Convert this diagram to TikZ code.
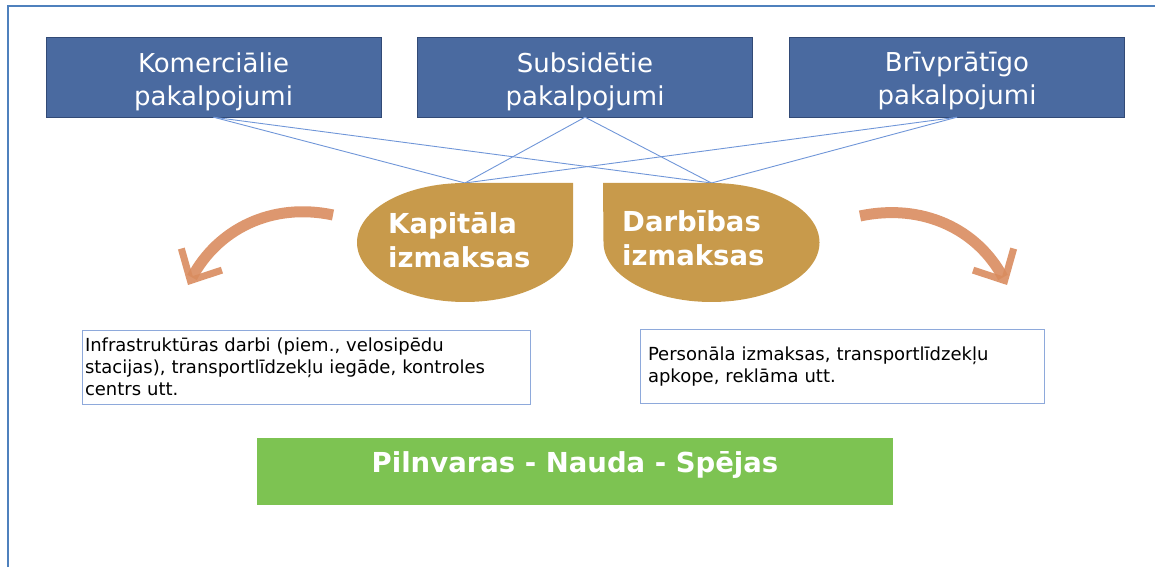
\documentclass[tikz,border=0pt]{standalone}
\usepackage{fontspec}
\setmainfont{DejaVu Sans}
\usetikzlibrary{arrows.meta}
\definecolor{boxblue}{RGB}{74,106,160}
\definecolor{boxedge}{RGB}{50,74,118}
\definecolor{linkblue}{RGB}{112,150,216}
\definecolor{frameblue}{RGB}{79,129,189}
\definecolor{costgold}{RGB}{200,154,75}
\definecolor{curlorange}{RGB}{217,140,95}
\definecolor{barggreen}{RGB}{125,195,82}
\definecolor{noteedge}{RGB}{142,169,219}

\begin{document}
\begin{tikzpicture}[x=1pt,y=1pt,
  service/.style={draw=boxedge, fill=boxblue, minimum width=335pt, minimum height=80pt},
  servicetext/.style={text=white, align=center, inner sep=0pt, font=\fontsize{26}{33}\selectfont},
  note/.style={draw=noteedge, align=left, minimum height=74pt, font=\fontsize{18}{22}\selectfont},
  cost/.style={text=white, align=left, inner sep=0pt, anchor=west, font=\bfseries\fontsize{27.5}{34}\selectfont},
  curl/.style={curlorange, opacity=0.9, line width=11pt, -{Straight Barb[length=24pt,width=46pt,line width=7pt]}}]
\useasboundingbox (0,0) rectangle (1155,567);
\draw[frameblue, line width=1.5pt] (8,0) -- (8,561) -- (1155,561);

% the three kinds of service
\node[service] (kom) at (213.5,490) {};
\node[service] (sub) at (585,490) {};
\node[service] (briv) at (957,490) {};
\node[servicetext] (komtext) at ([yshift=-4.5pt]kom.center) {Komerciālie\\pakalpojumi};
\node[servicetext] (subtext) at ([yshift=-4.5pt]sub.center) {Subsidētie\\pakalpojumi};
\node[servicetext] (brivtext) at ([yshift=-4.5pt]briv.center) {Brīvprātīgo\\pakalpojumi};

\coordinate (kap) at (465,384);
\coordinate (darb) at (711.5,384);
\foreach \s in {kom,sub,briv}
  \foreach \c in {kap,darb}
    \draw[linkblue, line width=0.9pt] (\s.south) -- (\c);

% the two cost drops
\fill[costgold] (357,324.5) arc[start angle=180, end angle=90, x radius=108pt, y radius=59.5pt]
  -- (573,384) -- (573,324.5) arc[start angle=0, end angle=-180, x radius=108pt, y radius=59.5pt] -- cycle;
\fill[costgold] (603,384) -- (711.5,384) arc[start angle=90, end angle=0, x radius=108pt, y radius=59.5pt]
  arc[start angle=0, end angle=-180, x radius=108pt, y radius=59.5pt] -- cycle;
\node[cost] (kaptext) at (388,327.25) {Kapitāla\\izmaksas};
\node[cost] (darbtext) at (622,328.75) {Darbības\\izmaksas};

\draw[curl] (333,352) to[out=168, in=62] (188,282);
\draw[curl] (860,351) to[out=12, in=118] (1007,282);

% what the costs are
\node[note, text width=442pt, inner xsep=3pt] (infra) at (306,200) {Infrastruktūras darbi (piem., velosipēdu\\stacijas), transportlīdzekļu iegāde, kontroles\\centrs utt.};
\node[note, text width=388pt, inner xsep=8pt] (pers) at (842,200.5) {Personāla izmaksas, transportlīdzekļu\\apkope, reklāma utt.};

\node[fill=barggreen, text=white, minimum width=636pt, minimum height=67pt, text height=20pt, text depth=17pt, font=\bfseries\fontsize{27.5}{32}\selectfont] (pns) at (575,95.5) {Pilnvaras - Nauda - Spējas};
\end{tikzpicture}
\end{document}
